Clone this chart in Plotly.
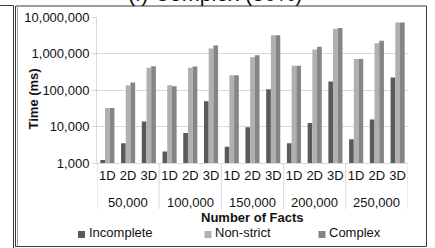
import plotly.graph_objects as go

groups = ["50,000", "100,000", "150,000", "200,000", "250,000"]
dims = ["1D", "2D", "3D"]
incomplete = [1200, 3500, 13800, 2050, 6600, 49500, 2800, 9600, 105000,
              3500, 12500, 170000, 4450, 15600, 220000]
nonstrict = [32000, 135000, 410000, 135000, 410000, 1380000, 255000, 795000, 3170000,
             465000, 1290000, 4800000, 710000, 1900000, 7100000]
complex_ = [32000, 160000, 445000, 127000, 440000, 1660000, 255000, 890000, 3150000,
            465000, 1540000, 5000000, 710000, 2220000, 7100000]
series_names = ["Incomplete", "Non-strict", "Complex"]
series_colors = ["#5a5a5a", "#b0b0b0", "#858585"]
ytick_vals = [1000, 10000, 100000, 1000000, 10000000]
ytick_text = ["1,000", "10,000", "100,000", "1,000,000", "10,000,000"]

cats = [f"{g} {d}" for g in groups for d in dims]
cat_text = [d for _ in groups for d in dims]

FONT = "Liberation Sans, Arial, sans-serif"
W, H = 435, 248
L, R, T, B = 97, 27, 17, 85
PW, PH = W - L - R, H - T - B


def px(x):
    return (x - L) / PW


def py(y):
    return (H - B - y) / PH


fig = go.Figure()
for name, vals, col in zip(series_names, [incomplete, nonstrict, complex_], series_colors):
    fig.add_trace(go.Bar(x=cats, y=vals, name=name, marker_color=col,
                         marker_line_width=0, showlegend=False))

shapes = []
ann = []
# category group dividers and labels
n = len(dims)
for gi, g in enumerate(groups):
    ann.append(dict(text=g, xref="x", yref="paper", x=gi * n + (n - 1) / 2, y=py(202.5),
                    xanchor="center", yanchor="middle", showarrow=False,
                    font=dict(family=FONT, size=13, color="#111")))
for k in range(len(groups) + 1):
    shapes.append(dict(type="line", xref="x", yref="paper",
                       x0=k * n - 0.5, x1=k * n - 0.5, y0=0, y1=py(209),
                       line=dict(color="#d9d9d9", width=1)))

# legend (squares + text)
leg = [(78, "Incomplete"), (204.5, "Non-strict"), (318.5, "Complex")]
for (x0, name), col in zip(leg, series_colors):
    shapes.append(dict(type="rect", xref="paper", yref="paper",
                       x0=px(x0), x1=px(x0 + 7), y0=py(238), y1=py(231),
                       fillcolor=col, line_width=0))
    ann.append(dict(text=name, xref="paper", yref="paper", x=px(x0 + 8.5), y=py(232.5),
                    xanchor="left", yanchor="middle", showarrow=False,
                    font=dict(family=FONT, size=13, color="#111")))

ann.append(dict(text="<b>Number of Facts</b>", xref="paper", yref="paper",
                x=px(252.5), y=py(217.5), xanchor="center", yanchor="middle",
                showarrow=False, font=dict(family=FONT, size=13, color="#111")))
ann.append(dict(text="<b>Time (ms)</b>", xref="paper", yref="paper",
                x=px(33), y=py(99.5), xanchor="center", yanchor="middle",
                textangle=-90, showarrow=False,
                font=dict(family=FONT, size=13, color="#111")))
ann.append(dict(text="(f) Complex (30%)", xref="paper", yref="paper",
                x=px(215), y=py(8), xanchor="center", yanchor="bottom",
                showarrow=False, font=dict(family=FONT, size=21.5, color="#111")))

# frames
shapes.append(dict(type="rect", xref="paper", yref="paper",
                   x0=px(15.5), x1=px(426.5), y0=py(246.5), y1=py(6),
                   line=dict(color="#3a3a3a", width=1), fillcolor="rgba(0,0,0,0)"))
shapes.append(dict(type="line", xref="paper", yref="paper",
                   x0=px(17.5), x1=px(17.5), y0=py(246), y1=py(6.5),
                   line=dict(color="#a0a0a0", width=1)))
shapes.append(dict(type="line", xref="paper", yref="paper",
                   x0=px(13.5), x1=px(13.5), y0=py(249), y1=py(5.5),
                   line=dict(color="#3a3a3a", width=1)))
shapes.append(dict(type="line", xref="paper", yref="paper",
                   x0=px(-2), x1=px(13.5), y0=py(5.5), y1=py(5.5),
                   line=dict(color="#3a3a3a", width=1)))

fig.update_layout(
    width=W, height=H,
    margin=dict(l=L, r=R, t=T, b=B, pad=0, autoexpand=False),
    paper_bgcolor="white", plot_bgcolor="white",
    barmode="group", bargap=0.32, bargroupgap=0,
    showlegend=False,
    font=dict(family=FONT, size=13, color="#111"),
    shapes=shapes, annotations=ann,
    xaxis=dict(type="category", categoryorder="array", categoryarray=cats,
               range=[-0.5, len(cats) - 0.5],
               tickvals=cats, ticktext=cat_text, tickangle=0,
               showline=True, linecolor="#d9d9d9", linewidth=1,
               ticks="", showgrid=False, automargin=False,
               tickfont=dict(family=FONT, size=13, color="#111")),
    yaxis=dict(type="log", range=[3, 7], tickvals=ytick_vals, ticktext=ytick_text,
               showgrid=True, gridcolor="#d9d9d9", gridwidth=1,
               showline=True, linecolor="#d9d9d9", linewidth=1,
               ticks="outside", ticklen=4, tickcolor="#d9d9d9",
               automargin=False, zeroline=False,
               tickfont=dict(family=FONT, size=13, color="#111")),
)

fig.write_html("out.html", config={"displayModeBar": False},
               post_script="document.body.style.margin='0';document.body.style.overflow='hidden';")
